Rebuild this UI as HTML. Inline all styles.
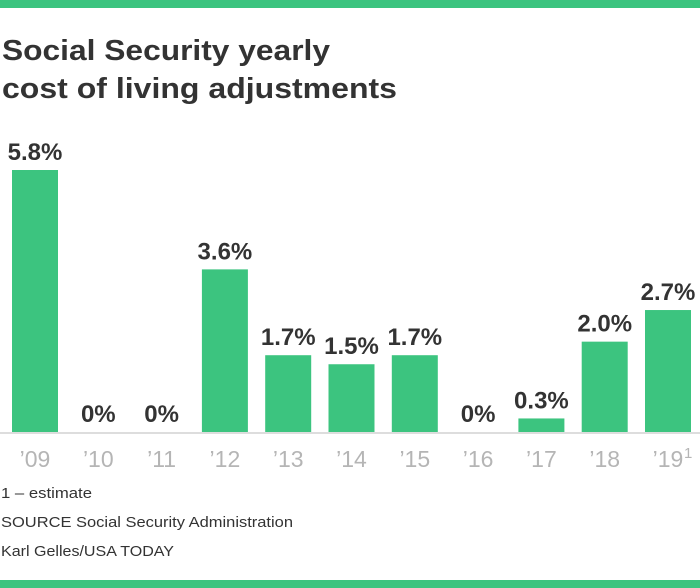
<!DOCTYPE html>
<html><head><meta charset="utf-8"><style>
body{margin:0;background:#fff;}
svg{display:block;font-family:"Liberation Sans",sans-serif;}
</style></head><body>
<svg id="chart" width="700" height="588" viewBox="0 0 700 588">
<rect x="0" y="0" width="700" height="8" fill="#3cc47f"/>
<rect x="0" y="580" width="700" height="8" fill="#3cc47f"/>
<text x="2" y="60" font-size="29" font-weight="bold" fill="#333" textLength="328" lengthAdjust="spacingAndGlyphs">Social Security yearly</text>
<text x="2" y="98" font-size="29" font-weight="bold" fill="#333" textLength="395" lengthAdjust="spacingAndGlyphs">cost of living adjustments</text>
<g id="bars"></g>
<rect x="0" y="432" width="700" height="2" fill="#ddd"/>
<text x="1" y="498" font-size="15" fill="#333" textLength="91" lengthAdjust="spacingAndGlyphs">1 – estimate</text>
<text x="1" y="527" font-size="15" fill="#333" textLength="292" lengthAdjust="spacingAndGlyphs">SOURCE Social Security Administration</text>
<text x="1" y="556" font-size="15" fill="#333" textLength="173" lengthAdjust="spacingAndGlyphs">Karl Gelles/USA TODAY</text>
</svg>
<script>
const years = ["'09","'10","'11","'12","'13","'14","'15","'16","'17","'18","'19"];
const values = [5.8,0,0,3.6,1.7,1.5,1.7,0,0.3,2.0,2.7];
const valueLabels = ["5.8%","0%","0%","3.6%","1.7%","1.5%","1.7%","0%","0.3%","2.0%","2.7%"];
const NS="http://www.w3.org/2000/svg";
const g=document.getElementById('bars');
const base=432, pxPerUnit=262/5.8, x0=12, step=63.3, bw=46;
function xPos(i){return x0+i*step;}
function yPos(v){return base-v*pxPerUnit;}
years.forEach((yr,i)=>{
  const x=xPos(i), y=yPos(values[i]);
  const r=document.createElementNS(NS,'rect');
  
  
  r.setAttribute('x',x);r.setAttribute('y',y);r.setAttribute('width',bw);r.setAttribute('height',base-y);
  r.setAttribute('fill','#3cc47f');g.appendChild(r);
  const t=document.createElementNS(NS,'text');
  
  
  t.setAttribute('x',x+bw/2);t.setAttribute('y',y-10);t.setAttribute('text-anchor','middle');
  t.setAttribute('font-size','24');t.setAttribute('font-weight','bold');t.setAttribute('fill','#333');
  t.textContent=valueLabels[i];g.appendChild(t);
  const a=document.createElementNS(NS,'text');
  
  
  a.setAttribute('x',x+bw/2);a.setAttribute('y',467);a.setAttribute('text-anchor','middle');
  a.setAttribute('font-size','23');a.setAttribute('fill','#b5b5b5');
  a.textContent=yr.replace("'","’");g.appendChild(a);
  if(i===years.length-1){
    const s=document.createElementNS(NS,'text');
    
    
    s.setAttribute('x',x+bw/2+16);s.setAttribute('y',458);s.setAttribute('font-size','15');s.setAttribute('fill','#b5b5b5');
    s.textContent='1';g.appendChild(s);
  }
});
</script>
</body></html>
